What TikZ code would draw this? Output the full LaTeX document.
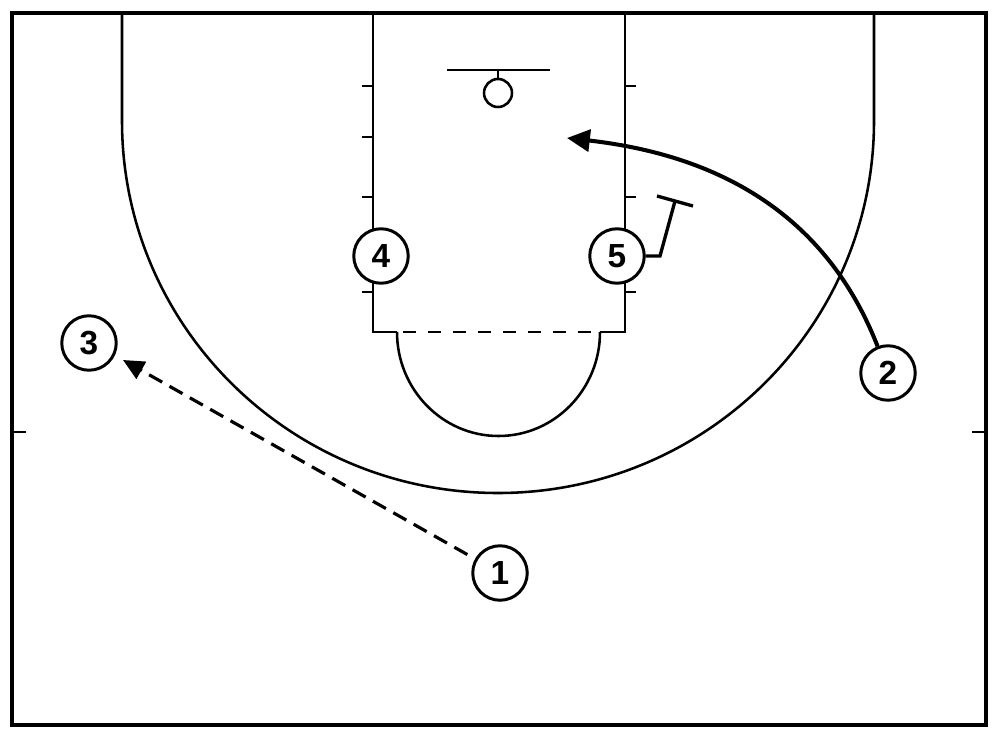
\documentclass[tikz,border=0pt]{standalone}
\usepackage{fontspec}
\setmainfont{Liberation Sans}
\usetikzlibrary{arrows.meta}
\begin{document}
\begin{tikzpicture}[x=0.02cm,y=-0.02cm,
  border/.style={line width=2.6pt},
  courtline/.style={line width=1.45pt},
  player/.style={circle,draw,fill=white,line width=1.7pt,minimum size=1.09cm,inner sep=0pt,font=\fontsize{19}{19}\selectfont\bfseries},
  cut/.style={line width=2.3pt,-{Triangle[length=13pt,width=12.5pt]}},
  pass/.style={line width=1.8pt,dash pattern=on 8.5pt off 4.8pt,-{Triangle[length=12pt,width=11pt]}},
  screen/.style={line width=1.9pt},
  ftdash/.style={courtline,dash pattern=on 7.4pt off 6.8pt}]
\useasboundingbox (0,0) rectangle (1000,750);
\fill[white] (0,0) rectangle (1000,750);
% court outline
\draw[border] (12,13) rectangle (986,725);
\draw[courtline] (12,432) -- (26,432);
\draw[courtline] (972,432) -- (986,432);
% three-point line
\draw[courtline] (122,13) -- (122,121) arc[start angle=180,end angle=0,x radius=376,y radius=372] -- (874,13);
% lane
\draw[courtline] (373,13) -- (373,332) -- (397,332);
\draw[courtline] (625,13) -- (625,332) -- (600,332);
\draw[ftdash] (403,332) -- (598,332);
\draw[courtline] (397,332) arc[start angle=180,end angle=0,x radius=101.5,y radius=104];
% lane hash marks
\foreach \yy in {86,137,197,292} \draw[courtline] (362,\yy) -- (373,\yy);
\foreach \yy in {86,197,292} \draw[courtline] (625,\yy) -- (636,\yy);
% backboard and rim
\draw[courtline] (447,70) -- (550,70);
\draw[courtline] (498,70) -- (498,79);
\draw[courtline] (498,93) circle[radius=14];
% players
\node[player] (p4) at (381,256) {4};
\node[player] (p5) at (617,256) {5};
\node[player] (p2) at (888,373) {2};
\node[player] (p3) at (89,343) {3};
\node[player] (p1) at (500,573) {1};
% cut by 2
\coordinate (cutend) at (567,138);
\draw[cut] (p2) .. controls (840,250) and (760,160) .. (cutend);
% screen by 5
\coordinate (s1) at (660,256);
\coordinate (s2) at (675,201);
\coordinate (sa) at (657,196);
\coordinate (sb) at (693,206);
\draw[screen] (p5.east) -- (s1) -- (s2);
\draw[screen] (sa) -- (sb);
% pass 1 to 3
\coordinate (passend) at (123,360);
\draw[pass,shorten <=5pt] (p1) -- (passend);
\end{tikzpicture}
\end{document}
